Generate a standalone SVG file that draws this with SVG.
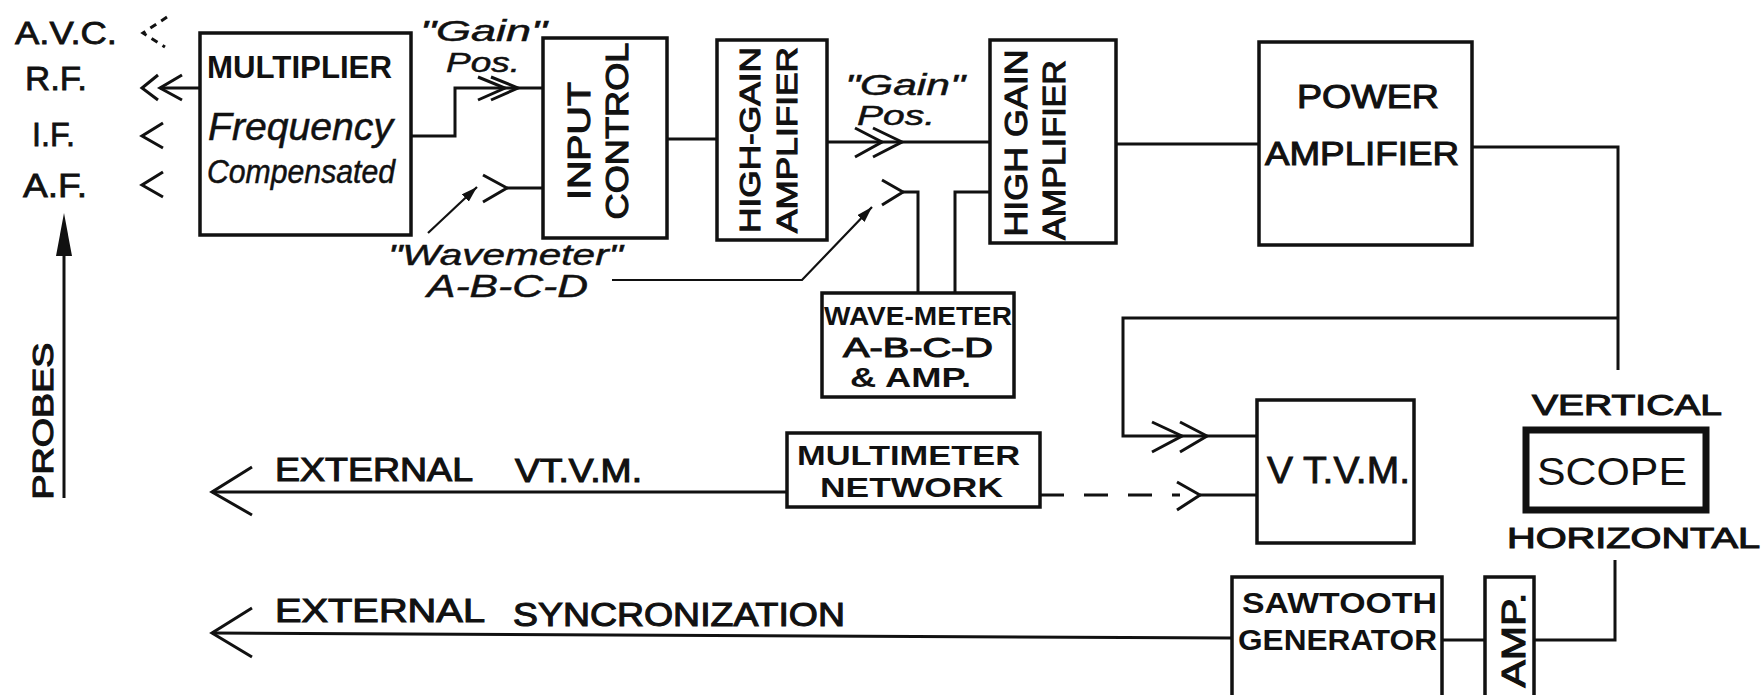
<svg xmlns="http://www.w3.org/2000/svg" width="1762" height="695" viewBox="0 0 1762 695">
<style>
.ln{fill:none;stroke:#111;stroke-width:3;stroke-linejoin:miter}
.ld{fill:none;stroke:#111;stroke-width:2.2}
.bx{fill:none;stroke:#111;stroke-width:3.5}
.t{font-family:"Liberation Sans",Arial,sans-serif;font-weight:bold;fill:#111}
.m{font-family:"Liberation Sans",Arial,sans-serif;fill:#111;stroke:#111;stroke-width:1.1}
.r{font-family:"Liberation Sans",Arial,sans-serif;fill:#111}
.s{font-family:"Liberation Sans",Arial,sans-serif;fill:#111;stroke:#111;stroke-width:0.8}
.i{font-family:"Liberation Sans",Arial,sans-serif;font-style:italic;fill:#111;stroke:#111;stroke-width:0.5}
</style>
<defs>
<marker id="ah" viewBox="0 0 16 10" refX="16" refY="5" markerWidth="16" markerHeight="10" orient="auto" markerUnits="userSpaceOnUse">
<path d="M0,0 L16,5 L0,10 z" fill="#111"/>
</marker>
</defs>
<rect x="0" y="0" width="1762" height="695" fill="#fff"/>

<g id="probe-labels">
<text class="s" x="15" y="44" font-size="32" textLength="102" lengthAdjust="spacingAndGlyphs">A.V.C.</text>
<text class="s" x="25" y="90" font-size="34" textLength="62" lengthAdjust="spacingAndGlyphs">R.F.</text>
<text class="s" x="32" y="146" font-size="34" textLength="43" lengthAdjust="spacingAndGlyphs">I.F.</text>
<text class="s" x="23" y="197" font-size="34" textLength="64" lengthAdjust="spacingAndGlyphs">A.F.</text>
<text class="m" transform="translate(53,421) rotate(-90)" text-anchor="middle" font-size="29" textLength="157" lengthAdjust="spacingAndGlyphs">PROBES</text>
</g>

<g id="multiplier">
<rect class="bx" x="200" y="33" width="211" height="202"/>
<text class="t" x="207" y="78" font-size="31" textLength="185" lengthAdjust="spacingAndGlyphs">MULTIPLIER</text>
<text class="i" x="208" y="140" font-size="38" textLength="185" lengthAdjust="spacingAndGlyphs">Frequency</text>
<text class="i" x="207" y="183" font-size="34" textLength="188" lengthAdjust="spacingAndGlyphs">Compensated</text>
</g>

<g id="input-control">
<rect class="bx" x="543" y="38" width="124" height="200"/>
<text class="m" transform="translate(590,141) rotate(-90)" text-anchor="middle" font-size="32" textLength="118" lengthAdjust="spacingAndGlyphs">INPUT</text>
<text class="m" transform="translate(628,131) rotate(-90)" text-anchor="middle" font-size="32" textLength="177" lengthAdjust="spacingAndGlyphs">CONTROL</text>
</g>

<g id="high-gain-amp-1">
<rect class="bx" x="717" y="40" width="110" height="200"/>
<text class="m" transform="translate(760,140) rotate(-90)" text-anchor="middle" font-size="30" textLength="186" lengthAdjust="spacingAndGlyphs">HIGH-GAIN</text>
<text class="m" transform="translate(797,140) rotate(-90)" text-anchor="middle" font-size="30" textLength="186" lengthAdjust="spacingAndGlyphs">AMPLIFIER</text>
</g>

<g id="high-gain-amp-2">
<rect class="bx" x="990" y="40" width="126" height="203"/>
<text class="m" transform="translate(1027,143) rotate(-90)" text-anchor="middle" font-size="31" textLength="187" lengthAdjust="spacingAndGlyphs">HIGH GAIN</text>
<text class="m" transform="translate(1065,150) rotate(-90)" text-anchor="middle" font-size="31" textLength="180" lengthAdjust="spacingAndGlyphs">AMPLIFIER</text>
</g>

<g id="power-amp">
<rect class="bx" x="1259" y="42" width="213" height="203"/>
<text class="m" x="1297" y="108" font-size="34" textLength="142" lengthAdjust="spacingAndGlyphs">POWER</text>
<text class="m" x="1265" y="165" font-size="34" textLength="194" lengthAdjust="spacingAndGlyphs">AMPLIFIER</text>
</g>

<g id="wave-meter">
<rect class="bx" x="822" y="293" width="192" height="104"/>
<text class="t" x="824" y="325" font-size="26" textLength="188" lengthAdjust="spacingAndGlyphs">WAVE-METER</text>
<text class="m" x="843" y="357" font-size="28" textLength="150" lengthAdjust="spacingAndGlyphs">A-B-C-D</text>
<text class="t" x="850" y="387" font-size="28" textLength="121" lengthAdjust="spacingAndGlyphs">&amp; AMP.</text>
</g>

<g id="multimeter-network">
<rect class="bx" x="787" y="433" width="253" height="74"/>
<text class="t" x="797" y="465" font-size="28" textLength="223" lengthAdjust="spacingAndGlyphs">MULTIMETER</text>
<text class="t" x="820" y="497" font-size="28" textLength="183" lengthAdjust="spacingAndGlyphs">NETWORK</text>
</g>

<g id="vtvm">
<rect class="bx" x="1257" y="400" width="157" height="143"/>
<text class="s" x="1267" y="483" font-size="36" textLength="143" lengthAdjust="spacingAndGlyphs">V T.V.M.</text>
</g>

<g id="scope">
<rect fill="none" stroke="#111" stroke-width="7" x="1526" y="430" width="180" height="80"/>
<text class="r" x="1537" y="485" font-size="39" textLength="150" lengthAdjust="spacingAndGlyphs">SCOPE</text>
<text class="m" x="1532" y="415" font-size="30" textLength="190" lengthAdjust="spacingAndGlyphs">VERTICAL</text>
<text class="m" x="1507" y="548" font-size="30" textLength="253" lengthAdjust="spacingAndGlyphs">HORIZONTAL</text>
</g>

<g id="sawtooth-generator">
<rect class="bx" x="1232" y="577" width="210" height="130"/>
<text class="t" x="1242" y="613" font-size="29" textLength="195" lengthAdjust="spacingAndGlyphs">SAWTOOTH</text>
<text class="t" x="1238" y="650" font-size="29" textLength="199" lengthAdjust="spacingAndGlyphs">GENERATOR</text>
</g>

<g id="amp">
<rect class="bx" x="1485" y="577" width="49" height="130"/>
<text class="m" transform="translate(1525,640) rotate(-90)" text-anchor="middle" font-size="33" textLength="95" lengthAdjust="spacingAndGlyphs">AMP.</text>
</g>

<g id="labels">
<text class="i" x="420" y="41" font-size="29" textLength="127" lengthAdjust="spacingAndGlyphs">"Gain"</text>
<text class="i" x="446" y="72" font-size="27" textLength="74" lengthAdjust="spacingAndGlyphs">Pos.</text>
<text class="i" x="845" y="95" font-size="29" textLength="120" lengthAdjust="spacingAndGlyphs">"Gain"</text>
<text class="i" x="857" y="125" font-size="27" textLength="78" lengthAdjust="spacingAndGlyphs">Pos.</text>
<text class="i" x="388" y="265" font-size="30" textLength="235" lengthAdjust="spacingAndGlyphs">"Wavemeter"</text>
<text class="i" x="427" y="297" font-size="32" textLength="161" lengthAdjust="spacingAndGlyphs">A-B-C-D</text>
<text class="m" x="275" y="481" font-size="33" textLength="198" lengthAdjust="spacingAndGlyphs">EXTERNAL</text>
<text class="m" x="515" y="482" font-size="33" textLength="127" lengthAdjust="spacingAndGlyphs">VT.V.M.</text>
<text class="m" x="275" y="622" font-size="33" textLength="210" lengthAdjust="spacingAndGlyphs">EXTERNAL</text>
<text class="m" x="513" y="626" font-size="33" textLength="332" lengthAdjust="spacingAndGlyphs">SYNCRONIZATION</text>
</g>

<g id="connectors">
<polyline class="ln" points="167,17 143,33 165,47" stroke-dasharray="7 6"/>
<polyline class="ln" points="158,75 142,88 158,100"/>
<polyline class="ln" points="182,75 160,88 182,100"/>
<line class="ln" x1="160" y1="88" x2="200" y2="88"/>
<polyline class="ln" points="163,123 142,136 163,148"/>
<polyline class="ln" points="163,172 142,185 163,197"/>
<line class="ln" x1="64" y1="498" x2="64" y2="250"/>
<polygon points="64,213 56,256 72,256" fill="#111"/>

<polyline class="ln" points="411,136 455,136 455,88 543,88"/>
<polyline class="ln" points="478,77 505,88 478,100"/>
<polyline class="ln" points="491,77 518,88 491,100"/>
<line class="ln" x1="507" y1="188" x2="543" y2="188"/>
<polyline class="ln" points="483,175 507,188 483,202"/>
<line class="ld" x1="428" y1="233" x2="477" y2="187" marker-end="url(#ah)"/>

<line class="ln" x1="667" y1="139" x2="717" y2="139"/>
<line class="ln" x1="827" y1="142" x2="990" y2="142"/>
<polyline class="ln" points="855,128 882,142 855,157"/>
<polyline class="ln" points="873,128 902,142 873,157"/>
<polyline class="ln" points="882,180 903,192 882,205"/>
<polyline class="ln" points="903,192 918,192 918,293"/>
<polyline class="ln" points="990,192 955,192 955,293"/>
<polyline class="ld" points="612,280 802,280 872,207" marker-end="url(#ah)"/>

<line class="ln" x1="1116" y1="144" x2="1259" y2="144"/>
<polyline class="ln" points="1472,147 1618,147 1618,370"/>
<polyline class="ln" points="1618,318 1123,318 1123,436 1257,436"/>
<polyline class="ln" points="1152,422 1182,436 1152,452"/>
<polyline class="ln" points="1180,422 1207,436 1180,452"/>
<line class="ln" x1="1040" y1="495" x2="1180" y2="495" stroke-dasharray="24 20"/>
<polyline class="ln" points="1177,482 1200,495 1177,510"/>
<line class="ln" x1="1200" y1="495" x2="1257" y2="495"/>

<line class="ln" x1="787" y1="492" x2="212" y2="492"/>
<polyline class="ln" points="252,467 212,492 252,515"/>
<line class="ln" x1="1232" y1="638" x2="212" y2="633"/>
<polyline class="ln" points="252,608 212,633 252,657"/>

<line class="ln" x1="1442" y1="640" x2="1485" y2="640"/>
<polyline class="ln" points="1534,640 1615,640 1615,560"/>
</g>
</svg>
